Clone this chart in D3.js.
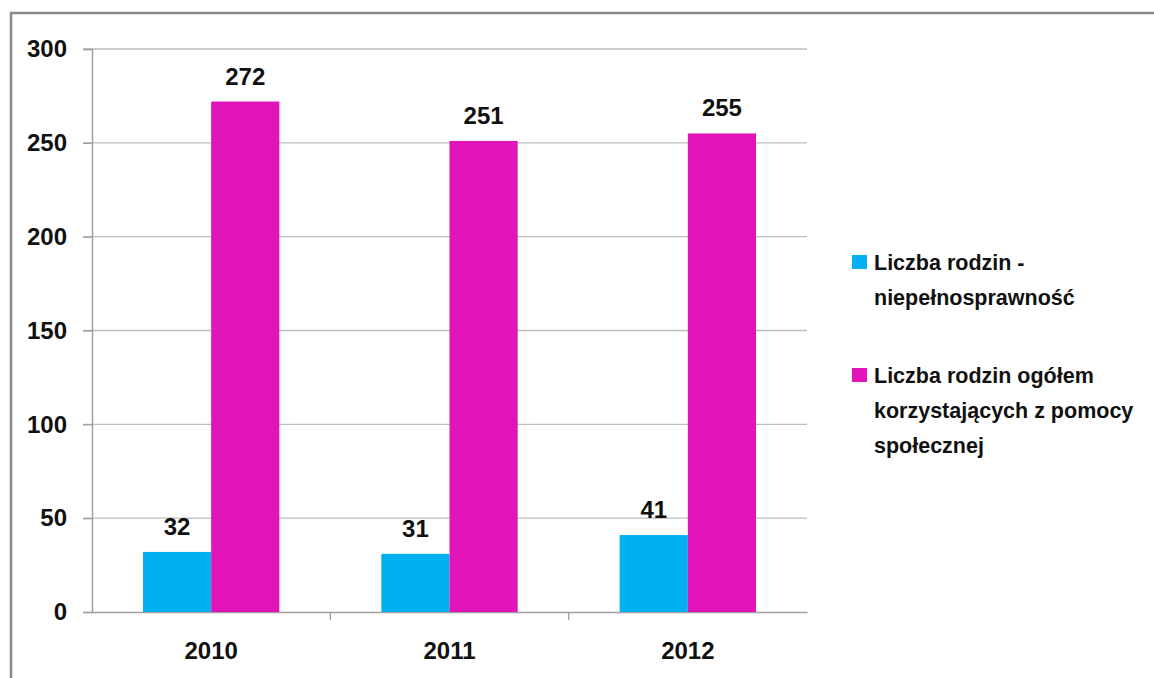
<!DOCTYPE html>
<html>
<head>
<meta charset="utf-8">
<script src="https://cdn.jsdelivr.net/npm/d3@7"></script>
<style>
  body { margin: 0; background: #fff; }
  text { font-family: "Liberation Sans", Arial, sans-serif; font-weight: bold; }
</style>
</head>
<body>
<div class="canvas-bar"></div>
<script>
const years = ['2010', '2011', '2012'];
const seriesNames = [
  ['Liczba rodzin -', 'niepełnosprawność'],
  ['Liczba rodzin ogółem', 'korzystających z pomocy', 'społecznej']
];
const disabilityFamilies = [32, 31, 41];
const totalFamilies = [272, 251, 255];
const yTicks = [0, 50, 100, 150, 200, 250, 300];
const colors = ['#00b0f0', '#e213b8'];

const width = 1154;
const height = 678;
const margin = { top: 49, left: 92, right: 347, bottom: 66 };
const graphWidth = width - margin.left - margin.right;
const graphHeight = height - margin.top - margin.bottom;

const svg = d3.select('.canvas-bar')
  .append('svg')
  .attr('width', width)
  .attr('height', height);

// outer frame, runs off the right and bottom edges
svg.append('rect')
  .attr('x', 11).attr('y', 13)
  .attr('width', width + 20).attr('height', height + 20)
  .attr('fill', 'none')
  .attr('stroke', '#8a8a8a')
  .attr('stroke-width', 2.5);

const graph = svg.append('g')
  .attr('transform', `translate(${margin.left}, ${margin.top})`);

const y = d3.scaleLinear().domain([0, 300]).range([graphHeight, 0]);
const x0 = d3.scaleBand().domain(years).range([0, graphWidth]).paddingInner(0).paddingOuter(0);
const x1 = d3.scaleBand().domain([0, 1]).range([51, x0.bandwidth() - 51]);

// grid lines
graph.append('g')
  .selectAll('line')
  .data(yTicks.filter(d => d > 0))
  .enter()
  .append('line')
  .attr('x1', -9).attr('x2', graphWidth)
  .attr('y1', d => y(d)).attr('y2', d => y(d))
  .attr('stroke', '#bdbdbd')
  .attr('stroke-width', 1.3);

// y axis
const yAxis = d3.axisLeft(y).tickValues(yTicks).tickSize(9).tickPadding(16);
const yAxisGroup = graph.append('g').call(yAxis);
yAxisGroup.select('.domain').attr('stroke', '#a0a0a0').attr('stroke-width', 1.5);
yAxisGroup.selectAll('.tick line').attr('stroke', '#a0a0a0').attr('stroke-width', 1.3);
yAxisGroup.selectAll('text')
  .attr('font-size', '24px').attr('font-family', '"Liberation Sans", Arial, sans-serif')
  .attr('font-weight', 'bold').attr('fill', '#111');

// x axis
const xAxis = d3.axisBottom(x0).tickSize(0).tickPadding(30);
const xAxisGroup = graph.append('g')
  .attr('transform', `translate(0, ${graphHeight})`)
  .call(xAxis);
xAxisGroup.select('.domain').attr('stroke', '#a0a0a0').attr('stroke-width', 1.5);
xAxisGroup.selectAll('text')
  .attr('font-size', '24px').attr('font-family', '"Liberation Sans", Arial, sans-serif')
  .attr('font-weight', 'bold').attr('fill', '#111');

// category separator ticks
graph.append('g')
  .selectAll('line')
  .data(years.slice(1))
  .enter()
  .append('line')
  .attr('x1', d => x0(d)).attr('x2', d => x0(d))
  .attr('y1', graphHeight).attr('y2', graphHeight + 8)
  .attr('stroke', '#a0a0a0')
  .attr('stroke-width', 1.3);

const rows = years.map((yr, i) => ({ year: yr, values: [disabilityFamilies[i], totalFamilies[i]] }));

const groups = graph.selectAll('.group')
  .data(rows)
  .enter()
  .append('g')
  .attr('class', 'group')
  .attr('transform', d => `translate(${x0(d.year)}, 0)`);

groups.selectAll('rect')
  .data(d => d.values.map((v, k) => ({ k, v })))
  .enter()
  .append('rect')
  .attr('x', d => x1(d.k))
  .attr('y', d => y(d.v))
  .attr('width', x1.bandwidth())
  .attr('height', d => graphHeight - y(d.v))
  .attr('fill', d => colors[d.k]);

groups.selectAll('.label')
  .data(d => d.values.map((v, k) => ({ k, v })))
  .enter()
  .append('text')
  .attr('class', 'label')
  .attr('x', d => x1(d.k) + x1.bandwidth() / 2)
  .attr('y', d => y(d.v) - 17)
  .attr('text-anchor', 'middle')
  .attr('font-size', '24px')
  .attr('fill', '#111')
  .text(d => d.v);

// legend
const legend = svg.append('g').attr('transform', 'translate(852, 0)');
const legendTop = [262, 375];
seriesNames.forEach((lines, k) => {
  legend.append('rect')
    .attr('x', 0).attr('y', legendTop[k] - 7)
    .attr('width', 15).attr('height', 14)
    .attr('fill', colors[k]);
  lines.forEach((line, j) => {
    legend.append('text')
      .attr('x', 22)
      .attr('y', legendTop[k] + j * 35 + 8)
      .attr('font-size', '21.5px')
      .attr('fill', '#111')
      .text(line);
  });
});
</script>
</body>
</html>
